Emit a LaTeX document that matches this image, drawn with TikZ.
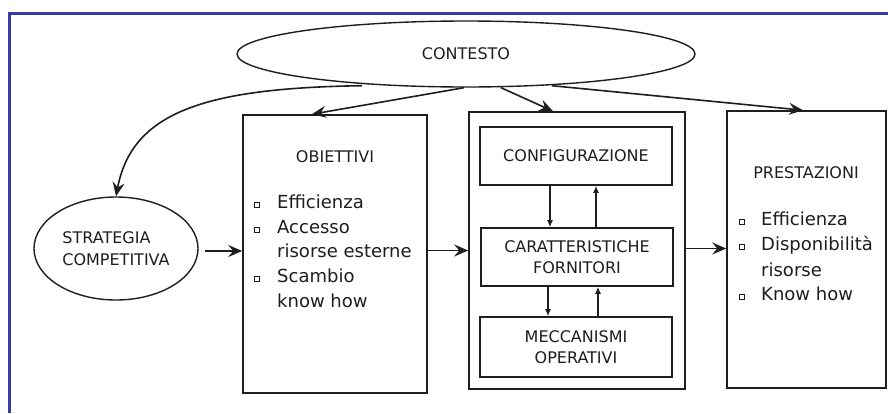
\documentclass[tikz,border=0pt]{standalone}
\usepackage{fontspec}
\setmainfont{DejaVu Sans}
\usetikzlibrary{shapes.geometric,arrows.meta,calc}
\definecolor{frameblue}{RGB}{58,58,168}
\definecolor{ink}{RGB}{30,30,30}
\begin{document}
\begin{tikzpicture}[x=1pt,y=-1pt,
  captxt/.style={font=\fontsize{16}{21.5}\selectfont, text=ink},
  itemtxt/.style={font=\fontsize{18}{24}\selectfont, text=ink, anchor=base west, inner sep=0},
  box/.style={draw=ink, line width=1.6pt, inner sep=0, rectangle},
  oval/.style={ellipse, draw=ink, line width=1.4pt, inner sep=0},
  bul/.style={draw=ink, line width=0.9pt, rectangle, minimum size=4.5pt, inner sep=0},
  bigarrow/.style={draw=ink, line width=1.6pt, -{Stealth[length=14pt,width=12pt,inset=5pt]}},
  smallarrow/.style={draw=ink, line width=1.2pt, -{Latex[length=7pt,width=6pt]}}]
\useasboundingbox (0,0) rectangle (888,413);
\fill[white] (0,0) rectangle (888,413);
% page frame (top and left edges)
\draw[frameblue, line width=3pt] (9.5,413) -- (9.5,13) -- (888,13);

% main blocks
\node[oval, captxt, minimum width=458, minimum height=66] (ctx) at (466,54) {CONTESTO};
\node[oval, captxt, minimum width=164, minimum height=103, align=left] (strat) at (116,248.5) {STRATEGIA\\COMPETITIVA};
\node[box, minimum width=184, minimum height=278] (obj) at (335,254) {};
\node[box, minimum width=216, minimum height=277] (mid) at (577,250.5) {};
\node[box, minimum width=159, minimum height=277] (prs) at (806.5,249.5) {};

% inner blocks
\node[box, captxt, minimum width=192, minimum height=58] (cfg) at (576,156) {CONFIGURAZIONE};
\node[box, captxt, minimum width=192, minimum height=58, align=center] (car) at (577,257) {CARATTERISTICHE\\FORNITORI};
\node[box, captxt, minimum width=192, minimum height=60, align=center] (mec) at (576,347) {MECCANISMI\\OPERATIVI};

% titles
\node[captxt, anchor=base] (objt) at (335,162) {OBIETTIVI};
\node[captxt, anchor=base] (prst) at (806,178) {PRESTAZIONI};

% objectives list
\node[bul] (ob1) at (257,205) {};
\node[itemtxt] (oi1) at (277,208) {Efficienza};
\node[bul] (ob2) at (257,230) {};
\node[itemtxt] (oi2) at (277,233) {Accesso};
\node[itemtxt] (oi3) at (277,257) {risorse esterne};
\node[bul] (ob3) at (257,279) {};
\node[itemtxt] (oi4) at (277,282) {Scambio};
\node[itemtxt] (oi5) at (277,307) {know how};

% performance list
\node[bul] (pb1) at (742,222) {};
\node[itemtxt] (pi1) at (761,225) {Efficienza};
\node[bul] (pb2) at (742,247) {};
\node[itemtxt] (pi2) at (761,250) {Disponibilità};
\node[itemtxt] (pi3) at (761,276) {risorse};
\node[bul] (pb3) at (742,297) {};
\node[itemtxt] (pi4) at (761,300) {Know how};

% connectors from the context
\draw[bigarrow] ([xshift=-104pt,yshift=2pt]ctx.south) .. controls (205,88) and (132,112) .. (strat.north);
\draw[bigarrow] ([xshift=-2pt]ctx.south) -- ([xshift=-23pt]obj.north);
\draw[bigarrow] ([xshift=35pt]ctx.south) -- ([xshift=-24pt]mid.north);
\draw[bigarrow] ([xshift=86pt,yshift=2pt]ctx.south) -- ([xshift=-3.5pt]prs.north);

% main flow
\draw[bigarrow] ([xshift=6pt,yshift=3pt]strat.east |- obj.west) -- ([yshift=3pt]obj.west);
\draw[bigarrow] (obj.east |- mid.west) -- (mid.west);
\draw[bigarrow] ([yshift=2pt]mid.east) -- ([yshift=2pt]mid.east -| prs.west);

% inner loops
\draw[smallarrow] ([xshift=-26pt]cfg.south) -- ([xshift=-26pt]cfg.south |- car.north);
\draw[smallarrow] ([xshift=20pt]cfg.south |- car.north) -- ([xshift=20pt]cfg.south);
\draw[smallarrow] ([xshift=-29pt]car.south) -- ([xshift=-29pt]car.south |- mec.north);
\draw[smallarrow] ([xshift=21pt]car.south |- mec.north) -- ([xshift=21pt]car.south);
\end{tikzpicture}
\end{document}
